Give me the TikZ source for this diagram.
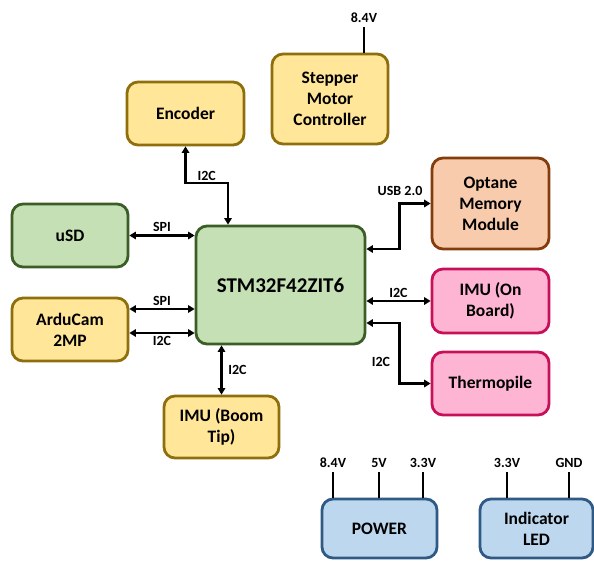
\documentclass[tikz,border=0pt]{standalone}
\usepackage{fontspec}
\setmainfont{Carlito}
\usetikzlibrary{arrows.meta,calc}
\definecolor{yfill}{HTML}{FFE699}\definecolor{ydraw}{HTML}{8F6E0C}
\definecolor{gfill}{HTML}{C5E0B4}\definecolor{gdraw}{HTML}{3B5E26}
\definecolor{ofill}{HTML}{F8CBAD}\definecolor{odraw}{HTML}{843C0C}
\definecolor{pfill}{HTML}{FDB5D3}\definecolor{pdraw}{HTML}{C8105A}
\definecolor{bfill}{HTML}{BDD7EE}\definecolor{bdraw}{HTML}{2F5A85}
\tikzset{
  box/.style={rounded corners=11pt, line width=2.8pt, align=center, inner sep=0pt,
    font=\bfseries\fontsize{17.5}{21}\selectfont},
  ybox/.style={box, fill=yfill, draw=ydraw},
  gbox/.style={box, fill=gfill, draw=gdraw},
  obox/.style={box, fill=ofill, draw=odraw},
  pbox/.style={box, fill=pfill, draw=pdraw},
  bbox/.style={box, fill=bfill, draw=bdraw},
  arr/.style={line width=2.6pt, {Triangle[length=6.5pt,width=7.5pt]}-{Triangle[length=6.5pt,width=7.5pt]}},
  wire/.style={line width=2.6pt},
  lbl/.style={font=\bfseries\fontsize{14}{16}\selectfont, inner sep=1.5pt}
}
\begin{document}
\begin{tikzpicture}[x=1pt,y=-1pt]
\useasboundingbox (0,0) rectangle (594,561);
% boxes
\node[ybox, minimum width=117pt, minimum height=63pt] (enc) at (185.5,113.5) {Encoder};
\node[ybox, minimum width=116pt, minimum height=90pt] (stp) at (330,99) {Stepper\\Motor\\Controller};
\node[gbox, minimum width=116pt, minimum height=63pt] (usd) at (70,235.5) {uSD};
\node[gbox, minimum width=169pt, minimum height=118pt, font=\bfseries\fontsize{21}{25}\selectfont] (stm) at (280.5,285) {STM32F42ZIT6};
\node[ybox, minimum width=116pt, minimum height=63pt] (ard) at (70,329.5) {ArduCam\\2MP};
\node[obox, minimum width=117pt, minimum height=91pt] (opt) at (490.5,203.5) {Optane\\Memory\\Module};
\node[pbox, minimum width=117pt, minimum height=64pt] (imu) at (490.5,301) {IMU (On\\Board)};
\node[pbox, minimum width=117pt, minimum height=63pt] (thm) at (490.5,383.5) {Thermopile};
\node[ybox, minimum width=115pt, minimum height=62pt] (boom) at (221.5,427) {IMU (Boom\\Tip)};
\node[bbox, minimum width=115pt, minimum height=59pt] (pwr) at (379.5,528.5) {POWER};
\node[bbox, minimum width=113pt, minimum height=59pt] (led) at (536.5,528.5) {Indicator\\LED};
% connectors
\draw[arr] (enc.south) |- (228,183) node[lbl, pos=0.75, above] (l1) {I2C} -- ([xshift=-52.5pt]stm.north);
\draw[arr] (usd.east) -- (usd.east -| stm.west) node[lbl, midway, above=1pt] (l2) {SPI};
\draw[arr] ([yshift=20.5pt]ard.east) -- ([yshift=20.5pt]ard.east -| stm.west) node[lbl, midway, above=1pt] (l3) {SPI};
\draw[arr] ([yshift=-3.5pt]ard.east) -- ([yshift=-3.5pt]ard.east -| stm.west) node[lbl, midway, below=1pt] (l4) {I2C};
\draw[arr] ([yshift=36pt]stm.east) -- ++(33,0) |- (opt.west);
\node[lbl] (l5) at (400,191) {USB 2.0};
\draw[arr] (stm.east |- imu.west) -- (imu.west) node[lbl, midway, above=1pt] (l6) {I2C};
\draw[arr] ([yshift=-38pt]stm.east) -- ++(33,0) |- (thm.west);
\node[lbl] (l7) at (381,362) {I2C};
\draw[arr] (stm.south -| boom.north) -- (boom.north) node[lbl, midway, right=4pt] (l8) {I2C};
% power wires
\draw[wire] ([xshift=34pt]stp.north) -- ++(0,-26) node[lbl, above=1pt] (v1) {8.4V};
\draw[wire] ([xshift=-46.5pt]pwr.north) -- ++(0,-26) node[lbl, above=1pt] (v2) {8.4V};
\draw[wire] ([xshift=-0.5pt]pwr.north) -- ++(0,-26) node[lbl, above=1pt] (v3) {5V};
\draw[wire] ([xshift=43.5pt]pwr.north) -- ++(0,-26) node[lbl, above=1pt] (v4) {3.3V};
\draw[wire] ([xshift=-29.5pt]led.north) -- ++(0,-26) node[lbl, above=1pt] (v5) {3.3V};
\draw[wire] ([xshift=32.5pt]led.north) -- ++(0,-26) node[lbl, above=1pt] (v6) {GND};
\end{tikzpicture}
\end{document}
